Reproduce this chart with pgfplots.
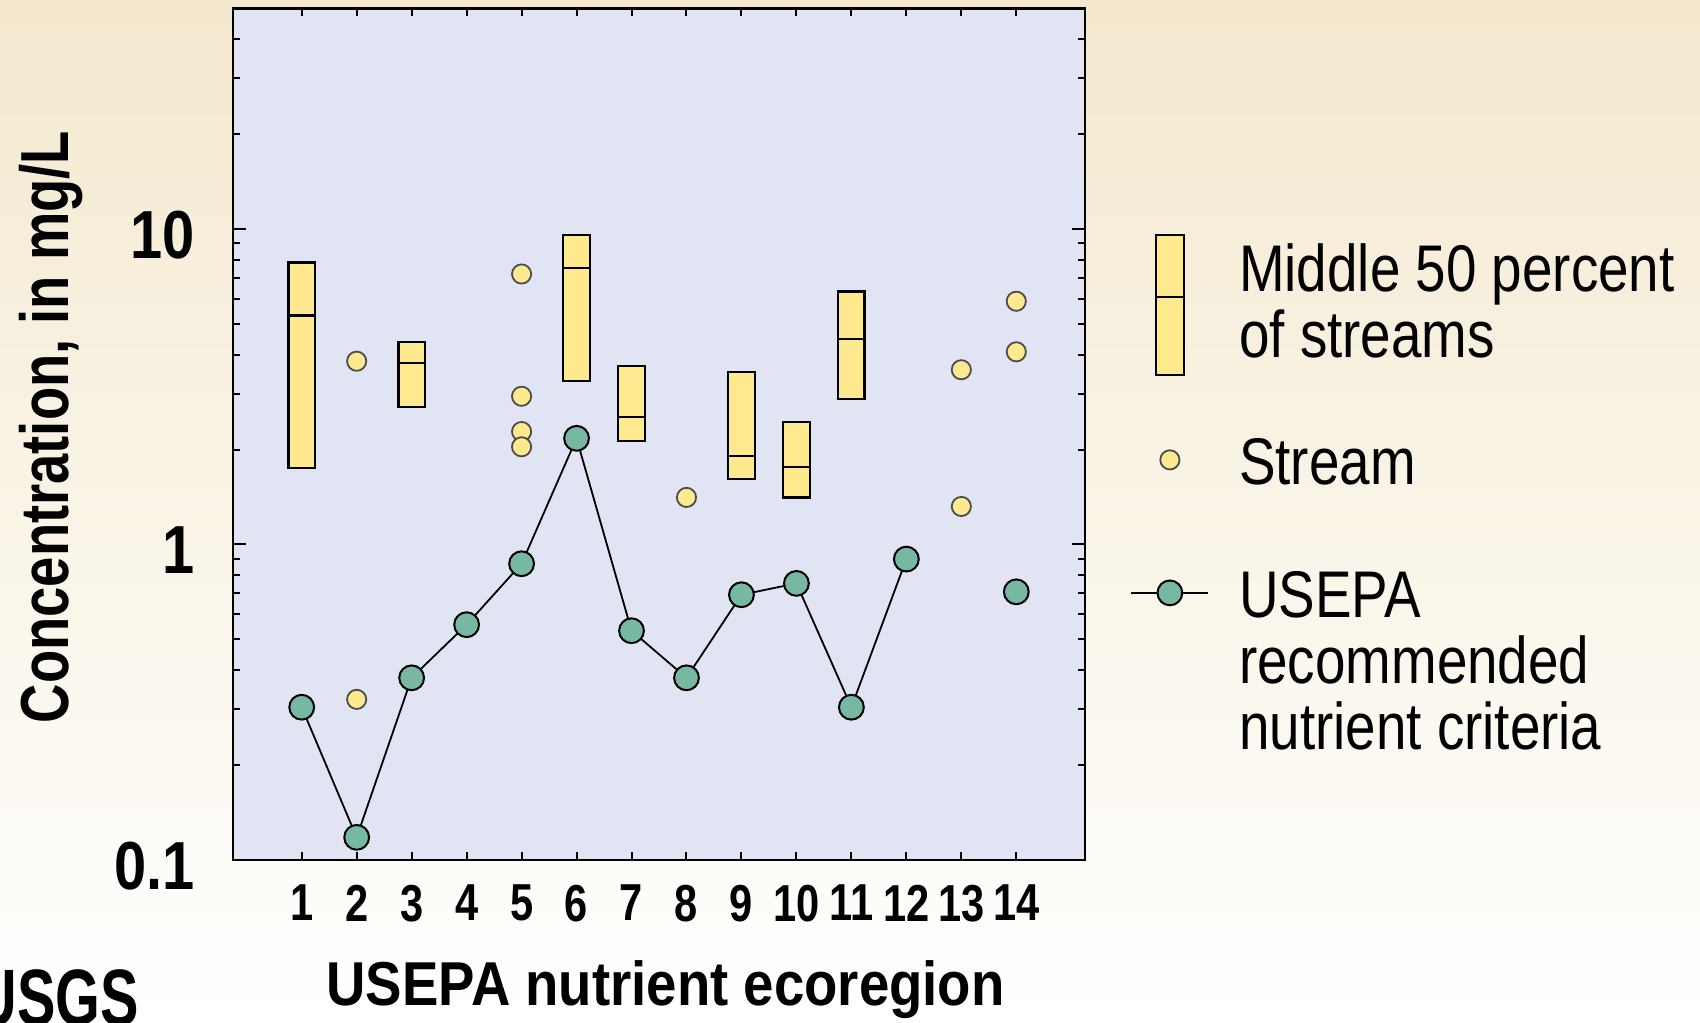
\documentclass[border=0pt]{standalone}
\usepackage{fontspec}
\setmainfont{Liberation Sans}
\newfontfamily\yticfont{Liberation Sans}[FakeStretch=0.85]
\newfontfamily\xticfont{Liberation Sans}[FakeStretch=0.8]
\newfontfamily\ylabfont{Liberation Sans}[FakeStretch=0.8]
\newfontfamily\xlabfont{Liberation Sans}[FakeStretch=0.88]
\newfontfamily\legfont{Liberation Sans}[FakeStretch=0.83]
\newfontfamily\logofont{Liberation Sans}[FakeStretch=0.72]
\usepackage{pgfplots}
\pgfplotsset{compat=1.18}
\definecolor{bgtop}{HTML}{F4E9CF}
\definecolor{bgmid}{HTML}{FAF5EA}
\definecolor{bgbot}{HTML}{FFFFFF}
\definecolor{plotbg}{HTML}{E1E4F3}
\definecolor{boxyel}{HTML}{FFE98F}
\definecolor{epagreen}{HTML}{76B8A2}
\begin{document}
\begin{tikzpicture}
\useasboundingbox (0pt,0pt) rectangle (425pt,255.5pt);
\shade[top color=bgtop, middle color=bgmid, bottom color=bgbot] (0pt,0pt) rectangle (425pt,255.5pt);
\node[anchor=base east, inner sep=0pt, font=\logofont\bfseries\fontsize{20}{20}\selectfont] at (35pt,-0.75pt) {USGS};
\begin{axis}[
  at={(58.25pt,40.5pt)}, anchor=south west,
  scale only axis, width=213pt, height=212.9pt,
  ymode=log, ymin=0.1, ymax=50, xmin=-0.25, xmax=15.25,
  axis background/.style={fill=plotbg},
  axis line style={line width=0.6pt},
  tick align=inside,
  xtick={1,2,3,4,5,6,7,8,9,10,11,12,13,14},
  xticklabels={1,2,3,4,5,6,7,8,9,10,11,12,13,14},
  ytick={0.1,1,10}, yticklabels={0.1,1,10},
  minor ytick={0.2,0.3,0.4,0.5,0.6,0.7,0.8,0.9,2,3,4,5,6,7,8,9,20,30,40},
  major tick length=3.3pt, minor tick length=1.7pt,
  xtick style={/pgfplots/major tick length=2pt},
  every tick/.style={black, line width=0.5pt},
  xticklabel style={font=\xticfont\bfseries\fontsize{13}{13}\selectfont, inner sep=0pt, yshift=-6pt},
  yticklabel style={font=\yticfont\bfseries\fontsize{17}{17}\selectfont, inner sep=0pt, xshift=-9.3pt, yshift=-1.5pt},
  xlabel={USEPA nutrient ecoregion},
  xlabel style={font=\xlabfont\bfseries\fontsize{15.5}{15.5}\selectfont, at={(axis description cs:0.5077,0)}, anchor=base, yshift=-36.25pt, inner sep=0pt},
  ylabel={Concentration, in mg/L},
  ylabel style={font=\ylabfont\bfseries\fontsize{17}{17}\selectfont, at={(axis description cs:-0.193,0.5085)}, anchor=base, inner sep=0pt},
  legend style={at={(axis description cs:1.0535,0.7375)}, anchor=north west, draw=none, fill=none, inner sep=0pt, outer sep=0pt, row sep=0pt, column sep=7.5pt, font=\legfont\fontsize{16.5}{16.5}\selectfont, nodes={inner sep=0pt, align=left}, cells={anchor=base west}},
  unbounded coords=jump,
]
% interquartile boxes (closed polygons, separated by nan)
\addplot[forget plot, fill=boxyel, draw=black, line width=0.55pt, line cap=rect] coordinates {
  (0.76,1.75) (1.24,1.75) (1.24,7.83) (0.76,7.83) (0.76,1.75) (nan,nan)
  (2.76,2.72) (3.24,2.72) (3.24,4.39) (2.76,4.39) (2.76,2.72) (nan,nan)
  (5.76,3.30) (6.24,3.30) (6.24,9.56) (5.76,9.56) (5.76,3.30) (nan,nan)
  (6.76,2.13) (7.24,2.13) (7.24,3.68) (6.76,3.68) (6.76,2.13) (nan,nan)
  (8.76,1.61) (9.24,1.61) (9.24,3.53) (8.76,3.53) (8.76,1.61) (nan,nan)
  (9.76,1.41) (10.24,1.41) (10.24,2.45) (9.76,2.45) (9.76,1.41) (nan,nan)
  (10.76,2.89) (11.24,2.89) (11.24,6.34) (10.76,6.34) (10.76,2.89)
};
% medians
\addplot[forget plot, draw=black, line width=0.55pt] coordinates {
  (0.76,5.32) (1.24,5.32) (nan,nan)
  (2.76,3.76) (3.24,3.76) (nan,nan)
  (5.76,7.53) (6.24,7.53) (nan,nan)
  (6.76,2.54) (7.24,2.54) (nan,nan)
  (8.76,1.91) (9.24,1.91) (nan,nan)
  (9.76,1.76) (10.24,1.76) (nan,nan)
  (10.76,4.48) (11.24,4.48)
};
% individual streams
\addplot[forget plot, only marks, mark=*, mark size=2.4pt, mark options={fill=boxyel, draw=black!70, line width=0.45pt}] coordinates {
  (2,3.81) (2,0.323) (5,7.20) (5,2.95) (5,2.28) (5,2.04) (8,1.41) (13,3.58) (13,1.32) (14,5.90) (14,4.08)
};
% USEPA criteria
\addplot[forget plot, black, line width=0.45pt, mark=*, mark size=3.1pt, mark options={fill=epagreen, draw=black, line width=0.5pt}] coordinates {
  (1,0.305) (2,0.118) (3,0.378) (4,0.557) (5,0.869) (6,2.17) (7,0.533) (8,0.378) (9,0.693) (10,0.753) (11,0.305) (12,0.899) (13,nan) (14,0.708)
};
\addlegendimage{legend image code/.code={
  \path[draw=none, fill=none] (-9.6pt,-5pt) rectangle (9.6pt,31.5pt);
  \draw[fill=boxyel, draw=black, line width=0.55pt] (-3.5pt,-4.25pt) rectangle (3.5pt,30.75pt);
  \draw[black, line width=0.55pt] (-3.5pt,15.25pt) -- (3.5pt,15.25pt);
}}
\addlegendentry{Middle 50 percent\\of streams}
\addlegendimage{legend image code/.code={
  \path[draw=none, fill=none] (-9.6pt,-4pt) rectangle (9.6pt,26.575pt);
  \draw[fill=boxyel, draw=black!70, line width=0.45pt] (0pt,6.1pt) circle[radius=2.4pt];
}}
\addlegendentry{Stream}
\addlegendimage{legend image code/.code={
  \path[draw=none, fill=none] (-9.6pt,-2pt) rectangle (9.6pt,62.35pt);
  \draw[black, line width=0.45pt] (-9.6pt,39.2pt) -- (9.6pt,39.2pt);
  \draw[fill=epagreen, draw=black, line width=0.5pt] (0pt,39.2pt) circle[radius=3.1pt];
}}
\addlegendentry{USEPA\\recommended\\nutrient criteria}
\end{axis}
\end{tikzpicture}
\end{document}
